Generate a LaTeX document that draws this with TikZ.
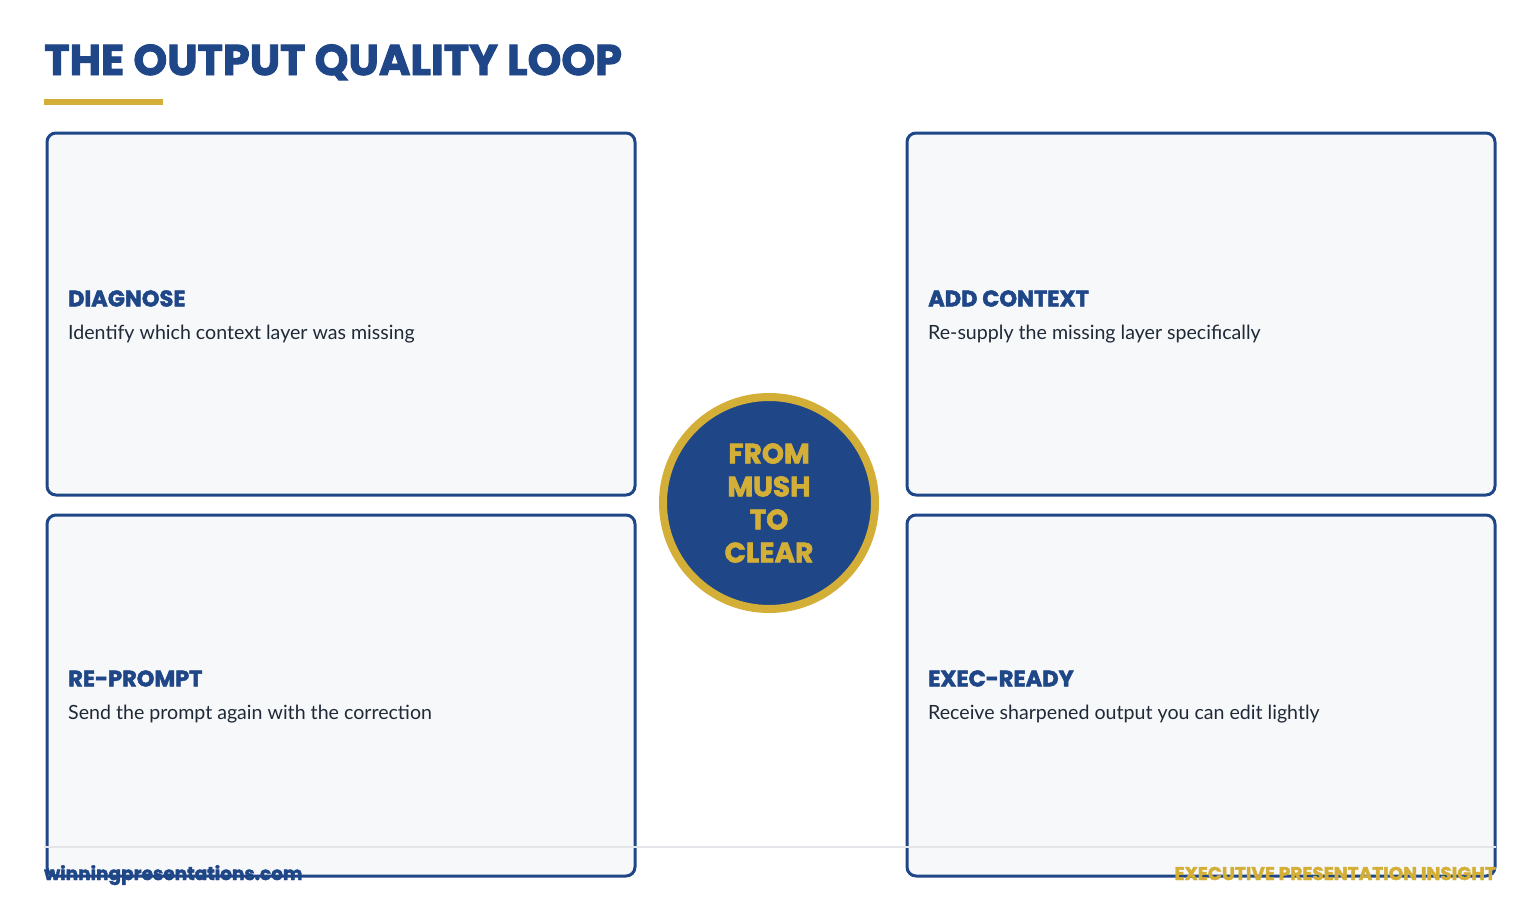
\documentclass[tikz,border=0pt]{standalone}
\usepackage{fontspec}
\setmainfont{Lato}
\newfontfamily\poppins{Poppins}[BoldFeatures={FakeBold=2.2}]
\usetikzlibrary{positioning}
\definecolor{navy}{HTML}{1F4788}
\definecolor{gold}{HTML}{D4AF37}
\definecolor{panel}{HTML}{F7F8FA}
\definecolor{ink}{HTML}{1F2937}
\definecolor{rulegray}{HTML}{E3E5E8}
\begin{document}
\begin{tikzpicture}[x=1pt,y=-1pt,
    card/.style={draw=navy,line width=3pt,fill=panel,rounded corners=9pt,inner sep=0pt,
      minimum width=588pt,anchor=north west},
    head/.style={anchor=west,inner sep=0pt,text=navy,font=\poppins\bfseries\fontsize{22.5}{26}\selectfont},
    desc/.style={anchor=west,inner sep=0pt,text=ink,font=\fontsize{19.6}{24}\selectfont}]
    \useasboundingbox[fill=white] (0,0) rectangle (1540,900);
    % title and accent bar
    \node[anchor=base west,inner sep=0pt,text=navy,font=\poppins\bfseries\fontsize{43}{48}\selectfont] (title) at (44,75) {THE OUTPUT QUALITY LOOP};
    \fill[gold] (44,99) rectangle (163,105);
    % the four steps
    \foreach \name/\x/\y/\h/\up/\dn/\head/\desc in {
        diag/45.5/131.5/362/15.5/20.5/DIAGNOSE/Identify which context layer was missing,
        addctx/905.5/131.5/362/15.5/20.5/ADD CONTEXT/Re-supply the missing layer specifically,
        reprompt/45.5/513.5/361/17/19/RE-PROMPT/Send the prompt again with the correction,
        ready/905.5/513.5/361/17/19/EXEC-READY/Receive sharpened output you can edit lightly}{
        \node[card,minimum height=\h pt] (\name) at (\x,\y) {};
        \node[head] (\name-head) at ([shift={(22.5,-\up)}]\name.west) {\head};
        \node[desc] (\name-desc) at ([shift={(22.5,\dn)}]\name.west) {\desc};
    }
    % centre badge
    \node[circle,draw=gold,line width=8pt,fill=navy,minimum size=212pt,inner sep=0pt,
      text=gold,align=center,font=\poppins\bfseries\fontsize{28}{33}\selectfont] (badge) at (769,503) {FROM\\MUSH\\TO\\CLEAR};
    % footer
    \coordinate (rule-l) at (44,847);
    \coordinate (rule-r) at (1496,847);
    \draw[rulegray,line width=1.5pt] (rule-l) -- (rule-r);
    \node[anchor=base west,inner sep=0pt,text=navy,font=\poppins\bfseries\fontsize{18.5}{20}\selectfont] (site) at (44,880) {winningpresentations.com};
    \node[anchor=base east,inner sep=0pt,text=gold,font=\poppins\bfseries\fontsize{18.5}{20}\selectfont] (tag) at (1496,880) {EXECUTIVE PRESENTATION INSIGHT};
\end{tikzpicture}
\end{document}
